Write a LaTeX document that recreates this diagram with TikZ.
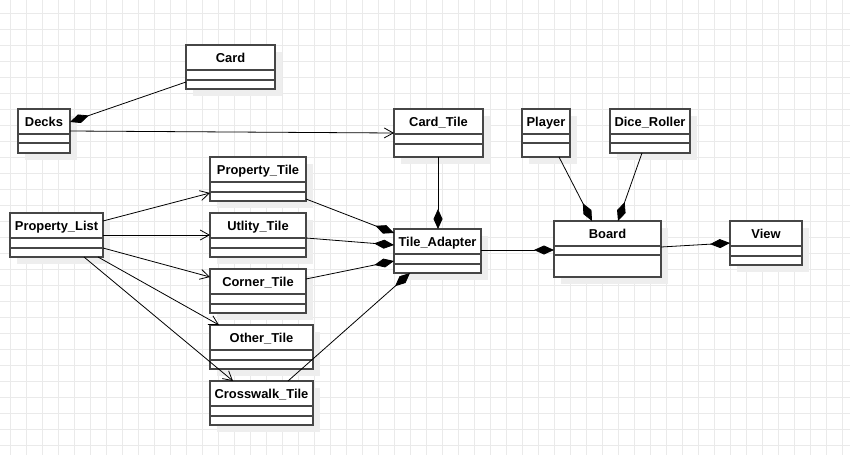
\documentclass[tikz,border=0pt]{standalone}
\usepackage{fontspec}
\setmainfont{Liberation Sans}
\usetikzlibrary{arrows.meta}
\definecolor{gridc}{RGB}{234,234,234}
\definecolor{shadowc}{RGB}{238,238,238}
\definecolor{borderc}{RGB}{70,70,70}
\tikzset{
  classbox/.style={draw=borderc, line width=1.3pt, fill=white, inner sep=0pt, outer sep=0pt},
  divline/.style={draw=borderc, line width=1.3pt},
  titletext/.style={font=\fontsize{12.9}{15}\selectfont\bfseries, inner sep=0pt, anchor=base},
  comp/.style={draw=black, line width=0.8pt, -{Diamond[length=20pt,width=9pt,fill=black]}},
  assoc/.style={draw=black, line width=0.8pt, -{Straight Barb[length=9pt,width=10pt,line width=0.8pt]}},
}
% name, x1, y1, x2, y2, d1, d2, title
\newcommand{\umlclass}[8]{%
  \fill[shadowc] (#2+7,#3+7) rectangle (#4+7,#5+7);
  \node[classbox, minimum width={#4pt-#2pt}, minimum height={#5pt-#3pt}] (#1) at ({(#2+#4)/2},{(#3+#5)/2}) {};
  \draw[divline] (#2,#6) -- (#4,#6);
  \draw[divline] (#2,#7) -- (#4,#7);
  \node[titletext] (#1-title) at ({(#2+#4)/2},{(#3+#6)/2+4.8}) {#8};
}
\begin{document}
\begin{tikzpicture}[x=1pt,y=-1pt]
\useasboundingbox (0,0) rectangle (850,455);
\fill[white] (0,0) rectangle (850,455);
\foreach \i in {0,...,52} {\draw[gridc, line width=1pt] (10.5+16*\i,0) -- (10.5+16*\i,455);}
\foreach \j in {0,...,27} {\draw[gridc, line width=1pt] (0,13.5+16*\j) -- (850,13.5+16*\j);}

\umlclass{card}{186}{45}{275}{89}{70}{80}{Card}
\umlclass{decks}{18}{109}{70}{153}{134}{143}{Decks}
\umlclass{cardtile}{394}{109}{483}{157}{134}{144}{Card\_Tile}
\umlclass{player}{522}{109}{570}{157}{134}{143}{Player}
\umlclass{dice}{610}{109}{690}{153}{134}{143}{Dice\_Roller}
\umlclass{adapter}{394}{229}{481}{273}{254}{264}{Tile\_Adapter}
\umlclass{board}{554}{221}{661}{277}{246}{255}{Board}
\umlclass{view}{730}{221}{802}{265}{246}{256}{View}
\umlclass{ptile}{210}{157}{306}{201}{182}{192}{Property\_Tile}
\umlclass{utile}{210}{213}{306}{257}{238}{248}{Utlity\_Tile}
\umlclass{plist}{10}{213}{103}{257}{238}{248}{Property\_List}
\umlclass{ctile}{210}{269}{306}{313}{294}{304}{Corner\_Tile}
\umlclass{otile}{210}{325}{313}{369}{350}{360}{Other\_Tile}
\umlclass{xtile}{210}{381}{313}{425}{406}{416}{Crosswalk\_Tile}

% compositions (diamond at the whole)
\draw[comp] ([yshift=7pt]card.south west) -- ([yshift=-13pt]decks.north east);
\draw[comp] ([yshift=2pt]ptile.south east) -- ([yshift=-4pt]adapter.north west);
\draw[comp] ([yshift=-25pt]utile.north east) -- ([yshift=-16pt]adapter.north west);
\draw[comp] ([yshift=-10pt]ctile.north east) -- ([yshift=-32pt]adapter.north west);
\draw[comp] ([xshift=78pt]xtile.north west) -- ([xshift=16pt]adapter.south west);
\draw[comp] ([xshift=44pt]cardtile.south west) -- ([xshift=44pt]adapter.north west);
\draw[comp] ([yshift=-21pt]adapter.north east) -- ([yshift=-29pt]board.north west);
\draw[comp] ([xshift=37pt]player.south west) -- ([xshift=38pt]board.north west);
\draw[comp] ([xshift=32pt]dice.south west) -- ([xshift=64pt]board.north west);
\draw[comp] ([yshift=-26pt]board.north east) -- ([yshift=-22pt]view.north west);

% associations
\draw[assoc] ([yshift=-22pt]decks.north east) -- ([yshift=-24pt]cardtile.north west);
\draw[assoc] ([yshift=-8pt]plist.north east) -- ([yshift=8pt]ptile.south west);
\draw[assoc] ([yshift=-22pt]plist.north east) -- ([yshift=-22pt]utile.north west);
\draw[assoc] ([yshift=-35pt]plist.north east) -- ([yshift=-8pt]ctile.north west);
\draw[assoc] ([xshift=-5pt]plist.south east) -- ([xshift=9pt]otile.north west);
\draw[assoc] ([xshift=74pt]plist.south west) -- ([xshift=23pt]xtile.north west);
\end{tikzpicture}
\end{document}
